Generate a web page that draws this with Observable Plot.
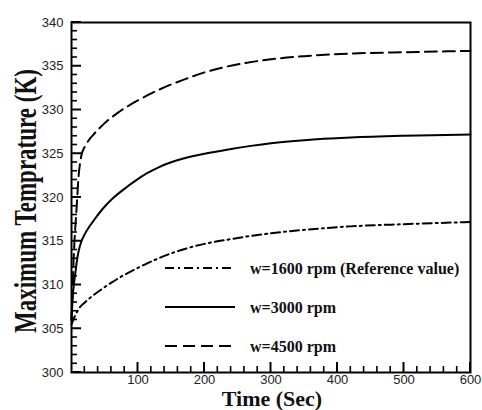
<!DOCTYPE html>
<html><head><meta charset="utf-8">
<script src="https://cdn.jsdelivr.net/npm/d3@7"></script>
<script src="https://cdn.jsdelivr.net/npm/@observablehq/plot@0.6"></script>
<style>body{margin:0;background:#fff}#chart{position:relative;width:482px;height:410px}</style>
</head><body><div id="chart"></div>
<script>
const seriesNames = ["w=1600 rpm (Reference value)", "w=3000 rpm", "w=4500 rpm"];
const t1600 = [0, 2, 5.5, 13, 20, 30.6, 45, 60.6, 78, 95.8, 113, 131, 159, 200, 240, 269, 299, 350, 420, 500, 600];
const v1600 = [305.5, 305.9, 306.5, 307.5, 308.0, 308.7, 309.5, 310.3, 311.1, 311.8, 312.45, 313.05, 313.85, 314.7, 315.25, 315.6, 315.9, 316.3, 316.7, 316.95, 317.2];
const t3000 = [0, 1, 2, 3.5, 5.5, 8, 10.5, 15, 20.6, 28, 35.6, 48, 60.6, 78, 95.8, 113, 131, 159, 200, 240, 270, 300, 350, 420, 500, 600];
const v3000 = [306.0, 307.5, 308.8, 310.0, 311.2, 312.7, 313.8, 315.0, 315.9, 316.8, 317.6, 318.8, 319.8, 320.9, 321.9, 322.75, 323.45, 324.25, 325.0, 325.55, 325.9, 326.2, 326.55, 326.85, 327.05, 327.2];
const t4500 = [0, 1, 2, 3, 4.5, 6.5, 8, 10.5, 13, 15.5, 20, 25.6, 32, 50, 70, 100, 134, 170, 200, 230, 264, 300, 350, 420, 500, 600];
const v4500 = [306.0, 308.0, 310.0, 312.5, 315.0, 317.5, 319.2, 322.3, 324.0, 325.0, 325.8, 326.5, 327.1, 328.5, 329.7, 331.1, 332.4, 333.5, 334.3, 334.9, 335.4, 335.8, 336.15, 336.45, 336.6, 336.75];
const xMajor = [100, 200, 300, 400, 500, 600];
const xMinor = d3.range(20, 600, 20).filter(d => d % 100 !== 0);
const yMajor = [300, 305, 310, 315, 320, 325, 330, 335, 340];
const yMinor = d3.range(301, 340, 1).filter(d => d % 5 !== 0);

const dashes = ["9,4,2,4", null, "12,6"];
const mk = (ts, vs) => ts.map((t, i) => ({t, v: vs[i]}));
const data = [mk(t1600, v1600), mk(t3000, v3000), mk(t4500, v4500)];

const sans = "Liberation Sans, Arial, sans-serif";
const serif = "Liberation Serif, Times New Roman, serif";
const W = 482, H = 410, ML = 71, MR = 12, MT = 22, MB = 38;
const MAJ = 10, MIN = 6;

const plot = Plot.plot({
  width: W, height: H,
  marginLeft: ML, marginRight: MR, marginTop: MT, marginBottom: MB,
  style: {fontFamily: sans, fontSize: "13px", color: "#222", background: "#fff", overflow: "visible"},
  x: {domain: [0, 600], axis: null},
  y: {domain: [300, 340], axis: null},
  marks: [
    ...data.map((d, i) => Plot.line(d, {x: "t", y: "v", stroke: "black", strokeWidth: 2, strokeDasharray: dashes[i], curve: "monotone-x"})),
    Plot.axisX({ticks: xMajor, tickSize: 0, tickPadding: 2, label: null, fontSize: 13}),
    Plot.axisY({ticks: yMajor, tickSize: 0, tickPadding: 8, label: null, fontSize: 13}),
    Plot.frame({stroke: "black", strokeWidth: 2})
  ]
});
document.getElementById("chart").appendChild(plot);

const svg = d3.select(plot);
// inward ticks, positioned through Plot's own scales
const sx = plot.scale("x"), sy = plot.scale("y");
const x0 = sx.apply(0), y0 = sy.apply(300);
const addTick = (x1, y1, x2, y2, w) => svg.append("line")
  .attr("x1", x1).attr("y1", y1).attr("x2", x2).attr("y2", y2)
  .attr("stroke", "#000").attr("stroke-width", w);
xMajor.forEach(v => addTick(sx.apply(v), y0, sx.apply(v), y0 - MAJ, 2));
xMinor.forEach(v => addTick(sx.apply(v), y0, sx.apply(v), y0 - MIN, 1.6));
yMajor.forEach(v => addTick(x0, sy.apply(v), x0 + MAJ, sy.apply(v), 2));
yMinor.forEach(v => addTick(x0, sy.apply(v), x0 + MIN, sy.apply(v), 1.6));

svg.append("text").attr("x", 272).attr("y", 405.5).attr("text-anchor", "middle")
  .attr("font-family", serif).attr("font-weight", "bold").attr("font-size", 22).attr("fill", "#111")
  .text("Time (Sec)");
svg.append("text").attr("transform", "translate(36,201) rotate(-90) scale(1,1.35)").attr("text-anchor", "middle")
  .attr("font-family", serif).attr("font-weight", "bold").attr("font-size", 23).attr("fill", "#111")
  .text("Maximum Temprature (K)");
const legY = [268, 307, 346];
seriesNames.forEach((name, i) => {
  svg.append("line").attr("x1", 165).attr("x2", 235).attr("y1", legY[i]).attr("y2", legY[i])
    .attr("stroke", "black").attr("stroke-width", 2.2).attr("stroke-dasharray", dashes[i]);
  svg.append("text").attr("x", 250).attr("y", legY[i] + 5.5).attr("text-anchor", "start")
    .attr("font-family", serif).attr("font-weight", "bold").attr("font-size", 16).attr("fill", "#111")
    .text(name);
});
</script></body></html>
